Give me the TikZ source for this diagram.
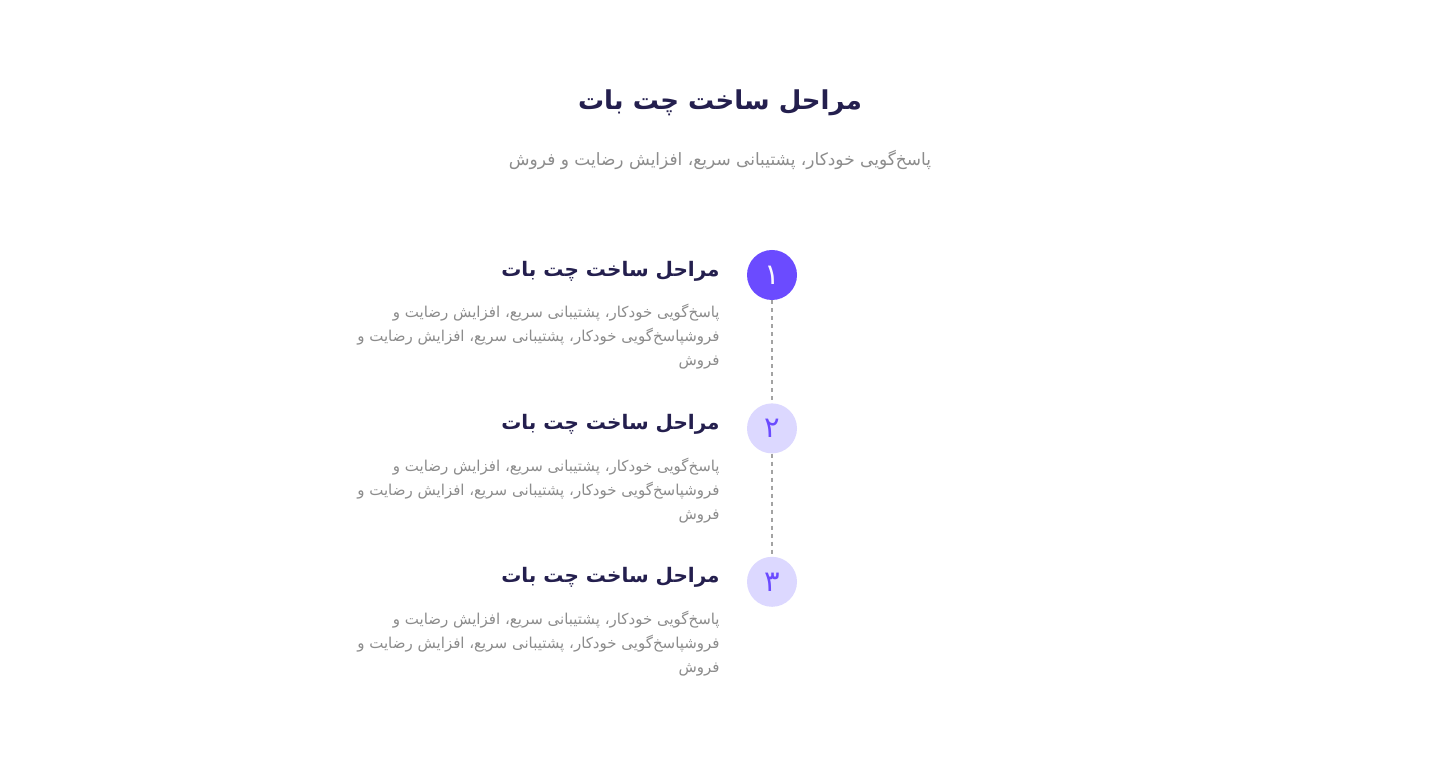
\documentclass[tikz,border=0pt]{standalone}
\usepackage{fontspec}
\usepackage{xcolor}
\usepackage{tikz}
\usetikzlibrary{positioning}
\TeXXeTstate=1
\newfontfamily\farsifont[Script=Arabic]{DejaVu Sans}
\definecolor{BotInk}{HTML}{241F4E}
\definecolor{BotPurple}{HTML}{6B4BFF}
\definecolor{BotLilac}{HTML}{DCD8FF}
\definecolor{BotGray}{HTML}{8C8C8C}
\definecolor{BotDash}{HTML}{A3A3A3}
\tikzset{
  stepnum/.style={circle,minimum size=50pt,inner sep=0pt,
    font=\farsifont\fontsize{29}{29}\selectfont},
  activenum/.style={stepnum,fill=BotPurple,text=white!85!BotLilac},
  restnum/.style={stepnum,fill=BotLilac,text=BotPurple},
  steptitle/.style={anchor=east,inner sep=0pt,text=BotInk,
    font=\farsifont\bfseries\fontsize{20}{24}\selectfont},
  stepdesc/.style={anchor=north east,align=right,inner sep=0pt,text=BotGray,
    font=\farsifont\fontsize{15}{24}\selectfont},
  link/.style={draw=BotDash,line width=1.5pt,dash pattern=on 4pt off 4pt}
}

\begin{document}
\begin{tikzpicture}[x=1pt,y=1pt]
  \useasboundingbox[fill=white] (0,0) rectangle (1440,774);
  % header
  \node[text=BotInk,font=\farsifont\bfseries\fontsize{26}{30}\selectfont] (head) at (720,671) {\beginR مراحل ساخت چت بات\endR};
  \node[text=BotGray,font=\farsifont\fontsize{17}{20}\selectfont] (sub) at (720,614) {\beginR پاسخ‌گویی خودکار، پشتیبانی سریع، افزایش رضایت و فروش\endR};
  % steps
  \node[activenum] (s1) at (772,499) {۱};
  \node[restnum,below=103pt of s1] (s2) {۲};
  \node[restnum,below=103pt of s2] (s3) {۳};
  \node[steptitle,left=27pt of s1,yshift=4pt] (t1) {\beginR مراحل ساخت چت بات\endR};
  \node[steptitle,left=27pt of s2,yshift=4pt] (t2) {\beginR مراحل ساخت چت بات\endR};
  \node[steptitle,left=27pt of s3,yshift=4pt] (t3) {\beginR مراحل ساخت چت بات\endR};
  \node[stepdesc] (d1) at ([yshift=-23pt]t1.south east) {\beginR پاسخ‌گویی خودکار، پشتیبانی سریع، افزایش رضایت و\endR\\\beginR فروشپاسخ‌گویی خودکار، پشتیبانی سریع، افزایش رضایت و\endR\\\beginR فروش\endR};
  \node[stepdesc] (d2) at ([yshift=-23pt]t2.south east) {\beginR پاسخ‌گویی خودکار، پشتیبانی سریع، افزایش رضایت و\endR\\\beginR فروشپاسخ‌گویی خودکار، پشتیبانی سریع، افزایش رضایت و\endR\\\beginR فروش\endR};
  \node[stepdesc] (d3) at ([yshift=-23pt]t3.south east) {\beginR پاسخ‌گویی خودکار، پشتیبانی سریع، افزایش رضایت و\endR\\\beginR فروشپاسخ‌گویی خودکار، پشتیبانی سریع، افزایش رضایت و\endR\\\beginR فروش\endR};
  \draw[link] (s1) -- (s2);
  \draw[link] (s2) -- (s3);
\end{tikzpicture}
\end{document}
